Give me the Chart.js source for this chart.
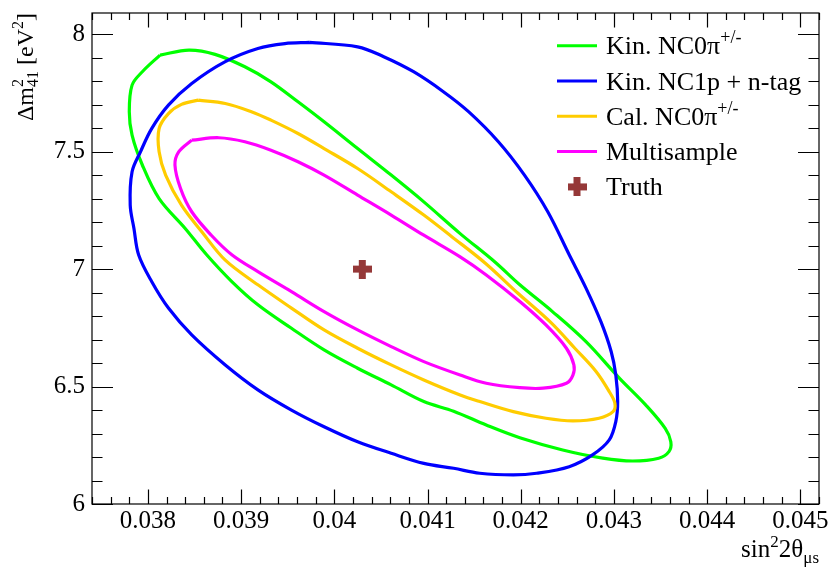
<!DOCTYPE html>
<html>
<head>
<meta charset="utf-8">
<title>Sensitivity contours</title>
<script src="https://cdn.jsdelivr.net/npm/chart.js@4.4.1/dist/chart.umd.min.js"></script>
<style>
	html, body { margin: 0; padding: 0; background: #fff; }
	#contourChart { display: block; }
</style>
</head>
<body>
<canvas id="contourChart" width="830" height="567"></canvas>
<script>
(function(window, document, undefined) {
	"use strict";

	// contour lines (sin^2 2theta, dm^2_41)
	var kinNC0piX = [0.03813, 0.03844, 0.03872, 0.03904, 0.03932, 0.03961, 0.03989, 0.04025, 0.04061, 0.04096, 0.04135, 0.04172, 0.04199, 0.04234, 0.04270, 0.04306, 0.04334, 0.04355, 0.04361, 0.04359, 0.04348, 0.04320, 0.04288, 0.04245, 0.04199, 0.04163, 0.04128, 0.04096, 0.04061, 0.04025, 0.03989, 0.03954, 0.03918, 0.03890, 0.03863, 0.03840, 0.03812, 0.03794, 0.03783, 0.03780, 0.03783, 0.03794];
	var kinNC0piY = [7.911, 7.932, 7.914, 7.861, 7.797, 7.712, 7.627, 7.513, 7.400, 7.286, 7.151, 7.031, 6.933, 6.819, 6.691, 6.535, 6.422, 6.322, 6.265, 6.223, 6.195, 6.183, 6.195, 6.230, 6.282, 6.336, 6.395, 6.436, 6.507, 6.578, 6.656, 6.748, 6.848, 6.947, 7.061, 7.173, 7.300, 7.443, 7.570, 7.670, 7.783, 7.840];

	var kinNC1pX = [0.03973, 0.04025, 0.04053, 0.04085, 0.04117, 0.04144, 0.04176, 0.04204, 0.04229, 0.04252, 0.04270, 0.04286, 0.04297, 0.04302, 0.04304, 0.04302, 0.04295, 0.04277, 0.04252, 0.04217, 0.04192, 0.04156, 0.04128, 0.04096, 0.04061, 0.04025, 0.03989, 0.03954, 0.03918, 0.03883, 0.03847, 0.03822, 0.03804, 0.03790, 0.03785, 0.03781, 0.03783, 0.03792, 0.03804, 0.03822, 0.03847, 0.03883, 0.03918, 0.03947];
	var kinNC1pY = [7.965, 7.946, 7.904, 7.840, 7.755, 7.670, 7.542, 7.400, 7.244, 7.061, 6.919, 6.776, 6.649, 6.549, 6.436, 6.351, 6.273, 6.209, 6.159, 6.131, 6.124, 6.131, 6.152, 6.173, 6.216, 6.265, 6.329, 6.400, 6.486, 6.592, 6.720, 6.834, 6.947, 7.061, 7.173, 7.272, 7.414, 7.499, 7.598, 7.698, 7.790, 7.883, 7.939, 7.960];

	var calNC0piX = [0.03854, 0.03883, 0.03911, 0.03932, 0.03961, 0.03989, 0.04025, 0.04061, 0.04096, 0.04126, 0.04162, 0.04197, 0.04233, 0.04258, 0.04281, 0.04295, 0.04301, 0.04299, 0.04284, 0.04256, 0.04227, 0.04192, 0.04156, 0.04135, 0.04096, 0.04061, 0.04025, 0.03989, 0.03954, 0.03918, 0.03883, 0.03858, 0.03836, 0.03819, 0.03812, 0.03812, 0.03822, 0.03836];
	var calNC0piY = [7.719, 7.705, 7.670, 7.634, 7.577, 7.513, 7.428, 7.329, 7.230, 7.138, 7.025, 6.897, 6.770, 6.663, 6.563, 6.478, 6.429, 6.393, 6.365, 6.354, 6.365, 6.393, 6.436, 6.464, 6.528, 6.592, 6.663, 6.741, 6.834, 6.933, 7.038, 7.158, 7.272, 7.400, 7.499, 7.598, 7.662, 7.701];

	var multiX = [0.03847, 0.03876, 0.03904, 0.03932, 0.03961, 0.03989, 0.04025, 0.04061, 0.04096, 0.04135, 0.04163, 0.04199, 0.04227, 0.04249, 0.04257, 0.04256, 0.04249, 0.04224, 0.04199, 0.04163, 0.04135, 0.04096, 0.04061, 0.04025, 0.03989, 0.03954, 0.03918, 0.03890, 0.03868, 0.03847, 0.03835, 0.03829, 0.03833];
	var multiY = [7.549, 7.559, 7.542, 7.506, 7.457, 7.400, 7.315, 7.230, 7.144, 7.052, 6.975, 6.862, 6.762, 6.663, 6.592, 6.549, 6.514, 6.493, 6.495, 6.514, 6.549, 6.606, 6.670, 6.741, 6.819, 6.904, 6.989, 7.061, 7.144, 7.244, 7.343, 7.443, 7.499];

	var truthX = [0.0403];
	var truthY = [7.0];

	var xTickValues = [0.038, 0.039, 0.04, 0.041, 0.042, 0.043, 0.044, 0.045];
	var yTickValues = [6, 6.5, 7, 7.5, 8];

	var FONT = 'Liberation Serif';
	var FSIZE = 25;

	Chart.defaults.font.family = FONT;
	Chart.defaults.font.size = FSIZE;
	Chart.defaults.color = '#000';

	function loop(xs, ys) {
		var pts = xs.map(function(x, i) { return { x: x, y: ys[i] }; });
		pts.push({ x: xs[0], y: ys[0] });
		return pts;
	}

	function plusMarker(size, thick, color) {
		var c = document.createElement('canvas');
		c.width = size;
		c.height = size;
		var g = c.getContext('2d');
		var o = (size - thick) / 2;
		g.fillStyle = color;
		g.fillRect(o, 0, thick, size);
		g.fillRect(0, o, size, thick);
		return c;
	}

	// text with sub/superscripts, drawn piece by piece
	function partWidth(ctx, p, size) {
		if (p.t !== undefined) {
			ctx.font = size + 'px ' + FONT;
			return ctx.measureText(p.t).width;
		}
		ctx.font = Math.round(size * 0.68) + 'px ' + FONT;
		return Math.max(p.sup ? ctx.measureText(p.sup).width : 0, p.sub ? ctx.measureText(p.sub).width : 0);
	}
	function richWidth(ctx, parts, size) {
		var w = 0;
		parts.forEach(function(p) { w += partWidth(ctx, p, size); });
		return w;
	}
	function drawRich(ctx, parts, x, y, size) {
		ctx.textAlign = 'left';
		ctx.textBaseline = 'alphabetic';
		parts.forEach(function(p) {
			var w = partWidth(ctx, p, size);
			if (p.t !== undefined) {
				ctx.fillText(p.t, x, y);
			} else {
				if (p.sup) ctx.fillText(p.sup, x, y - size * 0.42);
				if (p.sub) ctx.fillText(p.sub, x, y + size * 0.22);
			}
			x += w;
		});
	}

	var xTitle = [{ t: 'sin' }, { sup: '2' }, { t: '2θ' }, { sub: 'μs' }];
	var yTitle = [{ t: 'Δm' }, { sup: '2', sub: '41' }, { t: ' [eV' }, { sup: '2' }, { t: ']' }];

	var legendRows = [
		{ parts: [{ t: 'Kin. NC0π' }, { sup: '+/-' }], ds: 1 },
		{ parts: [{ t: 'Kin. NC1p + n-tag' }], ds: 2 },
		{ parts: [{ t: 'Cal. NC0π' }, { sup: '+/-' }], ds: 3 },
		{ parts: [{ t: 'Multisample' }], ds: 4 },
		{ parts: [{ t: 'Truth' }], ds: 0 }
	];

	var truthMarker = plusMarker(19, 7, '#953838');

	var framePlugin = {
		id: 'rootFrame',
		afterDatasetsDraw: function(chart) {
			var ctx = chart.ctx, a = chart.chartArea;
			var xs = chart.scales.x, ys = chart.scales.y;
			var i, v, p, major, len;
			ctx.save();
			ctx.strokeStyle = '#000';
			ctx.lineWidth = 1.2;
			ctx.strokeRect(a.left, a.top, a.right - a.left, a.bottom - a.top);
			ctx.beginPath();
			for (i = 0; i <= 39; i++) {
				v = 0.0374 + i * 0.0002;
				p = Math.round(xs.getPixelForValue(v)) + 0.5;
				major = Math.abs(v * 1000 - Math.round(v * 1000)) < 1e-6;
				len = major ? 14.5 : 7;
				ctx.moveTo(p, a.bottom); ctx.lineTo(p, a.bottom - len);
				ctx.moveTo(p, a.top); ctx.lineTo(p, a.top + len);
			}
			for (i = 0; i <= 20; i++) {
				v = 6 + i * 0.1;
				p = Math.round(ys.getPixelForValue(v)) + 0.5;
				major = i % 5 === 0;
				len = major ? 21 : 10.5;
				ctx.moveTo(a.left, p); ctx.lineTo(a.left + len, p);
				ctx.moveTo(a.right, p); ctx.lineTo(a.right - len, p);
			}
			ctx.stroke();
			ctx.restore();
		},
		afterDraw: function(chart) {
			var ctx = chart.ctx, a = chart.chartArea;
			ctx.save();
			ctx.fillStyle = '#000';
			// axis titles
			drawRich(ctx, xTitle, a.right - richWidth(ctx, xTitle, 25), 557, 25);
			ctx.save();
			ctx.translate(33, a.top);
			ctx.rotate(-Math.PI / 2);
			drawRich(ctx, yTitle, -richWidth(ctx, yTitle, 24), 0, 24);
			ctx.restore();
			// legend
			legendRows.forEach(function(row, k) {
				var cy = 45.7 + k * 35.3;
				var ds = chart.data.datasets[row.ds];
				if (ds.showLine) {
					ctx.strokeStyle = ds.borderColor;
					ctx.lineWidth = 3;
					ctx.beginPath();
					ctx.moveTo(557, cy);
					ctx.lineTo(597, cy);
					ctx.stroke();
				} else {
					ctx.drawImage(truthMarker, 577 - 9.5, cy - 9.5);
				}
				ctx.fillStyle = '#000';
				drawRich(ctx, row.parts, 606, cy + 8.5, 26);
			});
			ctx.restore();
		}
	};

	var tickFont = { family: FONT, size: FSIZE };

	var ctx = document.getElementById('contourChart').getContext('2d');
	var myChart = new Chart(ctx, {
		type: 'scatter',
		data: {
			datasets: [{
				label: 'Truth',
				data: truthX.map(function(x, i) { return { x: x, y: truthY[i] }; }),
				pointStyle: truthMarker,
				pointRadius: 10,
				showLine: false,
				order: 0
			}, {
				label: 'Kin. NC0pi+/-',
				data: loop(kinNC0piX, kinNC0piY),
				borderColor: '#00ff00',
				order: 4
			}, {
				label: 'Kin. NC1p + n-tag',
				data: loop(kinNC1pX, kinNC1pY),
				borderColor: '#0000ff',
				order: 3
			}, {
				label: 'Cal. NC0pi+/-',
				data: loop(calNC0piX, calNC0piY),
				borderColor: '#ffcc00',
				order: 2
			}, {
				label: 'Multisample',
				data: loop(multiX, multiY),
				borderColor: '#ff00ff',
				order: 1
			}].map(function(ds) {
				if (ds.showLine === undefined) {
					ds.showLine = true;
					ds.pointRadius = 0;
					ds.borderWidth = 3.2;
					ds.tension = 0.35;
					ds.fill = false;
				}
				return ds;
			})
		},
		options: {
			responsive: false,
			animation: false,
			layout: { padding: { top: 13, right: 7, left: 0, bottom: 0 } },
			plugins: {
				legend: { display: false },
				tooltip: { enabled: false }
			},
			scales: {
				x: {
					type: 'linear',
					min: 0.0374,
					max: 0.0452,
					grid: { display: false, drawTicks: false },
					border: { display: false },
					afterBuildTicks: function(s) {
						s.ticks = xTickValues.map(function(v) { return { value: v }; });
					},
					afterFit: function(s) {
						s.height = 63;
						s.paddingLeft = 0;
						s.paddingRight = 0;
					},
					ticks: {
						color: '#000',
						font: tickFont,
						padding: 2,
						maxRotation: 0,
						autoSkip: false,
						callback: function(v) { return String(v); }
					}
				},
				y: {
					type: 'linear',
					min: 6,
					max: 8.09,
					grid: { display: false, drawTicks: false },
					border: { display: false },
					afterBuildTicks: function(s) {
						s.ticks = yTickValues.map(function(v) { return { value: v }; });
					},
					afterFit: function(s) {
						s.width = 92;
						s.paddingTop = 0;
						s.paddingBottom = 0;
					},
					ticks: {
						color: '#000',
						font: tickFont,
						padding: 7,
						autoSkip: false,
						callback: function(v) { return String(v); }
					}
				}
			}
		},
		plugins: [framePlugin]
	});

})(window, document);
</script>
</body>
</html>
